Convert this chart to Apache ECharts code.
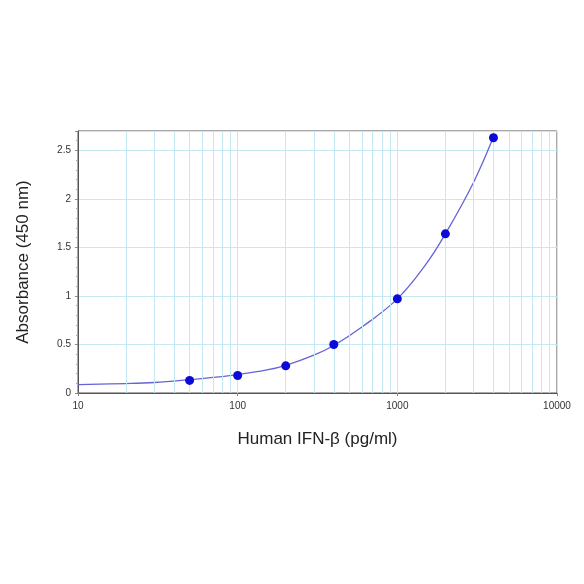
<!DOCTYPE html>
<html>
<head>
<meta charset="utf-8">
<script src="https://cdn.jsdelivr.net/npm/echarts@6/dist/echarts.min.js"></script>
<style>
  html, body { margin: 0; padding: 0; background: #fff; }
  #chart { width: 584px; height: 584px; }
</style>
</head>
<body>
<div id="chart"></div>
<script>
// 标准点 浓度 / 吸光度
const concentrations = [50, 100, 200, 400, 1000, 2000, 4000]
const absorbance = [0.13, 0.18, 0.28, 0.50, 0.97, 1.64, 2.63]
// 拟合曲线
const curveX = [10, 20, 30, 50, 70, 100, 150, 200, 300, 400, 600, 1000, 1500, 2000, 3000, 4000]
const curveY = [0.087, 0.097, 0.108, 0.137, 0.16, 0.19, 0.235, 0.285, 0.39, 0.49, 0.68, 0.97, 1.32, 1.64, 2.17, 2.64]
// 对数坐标次网格线
const minorGrid = [20, 30, 40, 50, 60, 70, 80, 90, 200, 300, 400, 500, 600, 700, 800, 900,
  2000, 3000, 4000, 5000, 6000, 7000, 8000, 9000]
const yTicks = [0, 0.5, 1, 1.5, 2, 2.5]

const gridColor = "#c4e8f4"
const myChart = echarts.init(document.getElementById("chart"))

let option = {
  animation: false,
  grid: {
    left: 78, right: 27, top: 131, bottom: 191,
    show: true, borderColor: "#555", borderWidth: 1,
  },
  xAxis: {
    type: "log",
    logBase: 10,
    min: 10,
    max: 10000,
    name: "Human IFN-β (pg/ml)",
    nameLocation: "middle",
    nameGap: 38,
    nameTextStyle: { fontFamily: "Liberation Sans", fontSize: 17, color: "#222" },
    axisLine: { show: true, onZero: false, lineStyle: { color: "#555" } },
    axisTick: { show: true, length: 3, lineStyle: { color: "#888" } },
    axisLabel: {
      fontFamily: "Liberation Sans", fontSize: 10, color: "#333", margin: 8,
      formatter: (v) => String(Math.round(v)),
    },
    splitLine: { show: true, lineStyle: { color: gridColor } },
  },
  yAxis: {
    type: "value",
    min: 0,
    max: 2.7,
    interval: 0.5,
    name: "Absorbance (450 nm)",
    nameLocation: "middle",
    nameGap: 46,
    nameTextStyle: { fontFamily: "Liberation Sans", fontSize: 17, color: "#222" },
    axisLine: { show: true, lineStyle: { color: "#555" } },
    axisTick: { show: true, length: 3, lineStyle: { color: "#888" } },
    minorTick: { show: true, splitNumber: 5, length: 2, lineStyle: { color: "#aaa" } },
    axisLabel: {
      fontFamily: "Liberation Sans", fontSize: 10, color: "#333", margin: 7,
      showMaxLabel: false,
      formatter: (v) => (yTicks.indexOf(v) >= 0 ? String(v) : ""),
    },
    splitLine: { show: true, lineStyle: { color: gridColor } },
  },
  series: [
    {
      // 次网格线
      type: "line",
      data: [],
      z: 1,
      silent: true,
      markLine: {
        silent: true,
        symbol: "none",
        label: { show: false },
        lineStyle: { color: gridColor, width: 1, type: "solid" },
        data: minorGrid.map((v) => ({ xAxis: v })),
      },
    },
    {
      type: "line",
      data: curveX.map((x, i) => [x, curveY[i]]),
      smooth: 0.4,
      showSymbol: false,
      z: 3,
      lineStyle: { color: "#6464d8", width: 1.3 },
    },
    {
      type: "scatter",
      data: concentrations.map((x, i) => [x, absorbance[i]]),
      symbolSize: 9,
      zlevel: 1,
      z: 10,
      itemStyle: { color: "#0b0bd8", opacity: 1, borderWidth: 0 },
    },
  ],
}
myChart.setOption(option)
</script>
</body>
</html>
